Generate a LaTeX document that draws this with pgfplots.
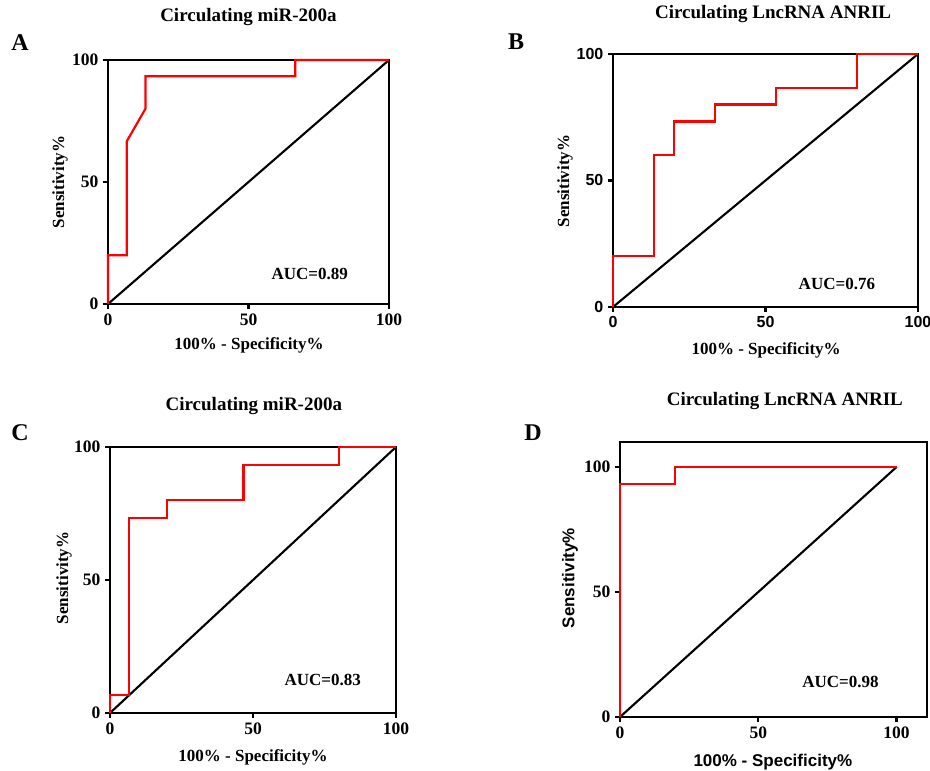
\documentclass[border=0pt]{standalone}
\usepackage{fontspec}
\setmainfont{Liberation Serif}
\newfontfamily\arialfont{Liberation Sans}
\usepackage{pgfplots}
\pgfplotsset{compat=1.18}
\pgfplotsset{
  roc/.style={
    scale only axis,
    xmin=0, xmax=100, ymin=0, ymax=100,
    xtick={0,50,100}, ytick={0,50,100},
    xticklabels={0,50,100}, yticklabels={0,50,100},
    tick align=outside, xtick pos=bottom, ytick pos=left,
    major tick length=5pt,
    every tick/.style={black, line width=2.2pt},
    axis line style={line width=2.6pt},
    line width=2.6pt,
    clip=false,
    ticklabel style={font=\fontsize{17.5}{20}\selectfont\bfseries},
    label style={font=\fontsize{17}{20}\selectfont\bfseries},
    title style={font=\fontsize{19}{22}\selectfont\bfseries, anchor=center},
    xlabel={100\% - Specificity\%},
    ylabel={Sensitivity\%},
  },
  rocline/.style={red, line width=2.2pt},
  diag/.style={black, line width=2.1pt},
}
\begin{document}
\begin{tikzpicture}[x=1pt,y=1pt]
\clip (0,0) rectangle (930,771);
% A
\begin{axis}[roc, at={(108pt,467pt)}, anchor=south west, width=281pt, height=244pt,
  title={Circulating miR-200a}, title style={at={(axis description cs:0.5,1.152)}},
  xlabel style={at={(axis description cs:0.502,-0.168)}, anchor=center},
  ylabel style={at={(axis description cs:-0.171,0.5)}, anchor=center}]
\addplot[diag] coordinates {(0,0) (100,100)};
\addplot[rocline] coordinates {(0,0) (0,20) (6.67,20) (6.67,66.67) (13.33,80) (13.33,93.33) (66.67,93.33) (66.67,100) (100,100)};
\node[font=\fontsize{17}{20}\selectfont\bfseries] at (axis cs:71.8,12.3) {AUC=0.89};
\end{axis}
% B
\begin{axis}[roc, at={(613pt,464pt)}, anchor=south west, width=305pt, height=253pt,
  ticklabel style={font=\fontsize{16}{19}\selectfont\arialfont\bfseries},
  title={Circulating LncRNA ANRIL}, title style={at={(axis description cs:0.525,1.134)}},
  xlabel style={at={(axis description cs:0.502,-0.170)}, anchor=center},
  ylabel style={at={(axis description cs:-0.157,0.498)}, anchor=center}]
\addplot[diag] coordinates {(0,0) (100,100)};
\addplot[rocline] coordinates {(0,0) (0,20) (13.33,20) (13.33,60) (20,60) (20,73.33) (33.33,73.33) (33.33,80) (53.33,80) (53.33,86.67) (80,86.67) (80,100) (100,100)};
\node[font=\fontsize{17}{20}\selectfont\bfseries] at (axis cs:73.4,9.2) {AUC=0.76};
\end{axis}
% C
\begin{axis}[roc, at={(110pt,58pt)}, anchor=south west, width=286pt, height=266pt,
  title={Circulating miR-200a}, title style={at={(axis description cs:0.503,1.132)}},
  xlabel style={at={(axis description cs:0.5,-0.165)}, anchor=center},
  ylabel style={at={(axis description cs:-0.161,0.508)}, anchor=center}]
\addplot[diag] coordinates {(0,0) (100,100)};
\addplot[rocline] coordinates {(0,0) (0,6.67) (6.67,6.67) (6.67,73.33) (20,73.33) (20,80) (46.67,80) (46.67,93.33) (80,93.33) (80,100) (100,100)};
\node[font=\fontsize{17}{20}\selectfont\bfseries] at (axis cs:74.4,12.3) {AUC=0.83};
\end{axis}
% D
\begin{axis}[roc, at={(620pt,54pt)}, anchor=south west, width=307pt, height=275pt,
  xmax=111, ymax=110,
  label style={font=\fontsize{17}{20}\selectfont\arialfont\bfseries},
  title={Circulating LncRNA ANRIL}, title style={at={(axis description cs:0.537,1.127)}},
  xlabel style={at={(axis description cs:0.498,-0.164)}, anchor=center},
  ylabel style={at={(axis description cs:-0.163,0.505)}, anchor=center}]
\addplot[diag] coordinates {(0,0) (100,100)};
\addplot[rocline] coordinates {(0,0) (0,93.33) (20,93.33) (20,100) (100,100)};
\node[font=\fontsize{17}{20}\selectfont\bfseries] at (axis cs:79.7,14.1) {AUC=0.98};
\end{axis}
% panel letters
\node[font=\fontsize{24}{28}\selectfont\bfseries] at (20,728) {A};
\node[font=\fontsize{24}{28}\selectfont\bfseries] at (516,729) {B};
\node[font=\fontsize{24}{28}\selectfont\bfseries] at (20,338) {C};
\node[font=\fontsize{24}{28}\selectfont\bfseries] at (533,338) {D};
\end{tikzpicture}
\end{document}
